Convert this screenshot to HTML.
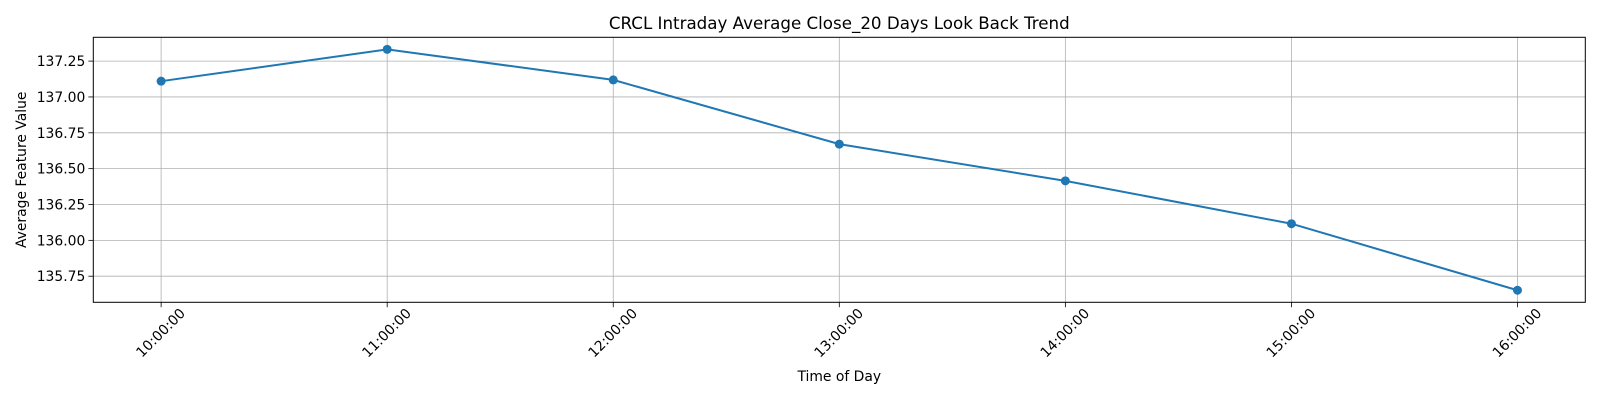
<!DOCTYPE html>
<html><head><meta charset="utf-8"><style>
html,body{margin:0;padding:0;background:#fff;}
svg{display:block;font-family:"DejaVu Sans","Liberation Sans",sans-serif;}
</style></head><body>
<svg id="chart" width="1600" height="400"></svg>
<script>
const categories = ["10:00:00","11:00:00","12:00:00","13:00:00","14:00:00","15:00:00","16:00:00"];
const values = [137.110, 137.332, 137.119, 136.671, 136.415, 136.116, 135.652];
const yTicks = [135.75, 136.00, 136.25, 136.50, 136.75, 137.00, 137.25];
const yTickLabels = ["135.75","136.00","136.25","136.50","136.75","137.00","137.25"];

const NS = "http://www.w3.org/2000/svg";
const svg = document.getElementById("chart");
const L = 93.3, R = 1585.3, T = 37.3, B = 302.3;
const n = categories.length;
const xPad = (n - 1) * 0.05;
const x = i => L + (i + xPad) / ((n - 1) + 2 * xPad) * (R - L);
const vmin = Math.min(...values), vmax = Math.max(...values);
const vPad = (vmax - vmin) * 0.05;
const y = v => B - (v - (vmin - vPad)) / ((vmax + vPad) - (vmin - vPad)) * (B - T);

function mk(tag, attrs, text) {
  const e = document.createElementNS(NS, tag);
  for (const k in attrs) e.setAttribute(k, attrs[k]);
  if (text !== undefined) e.textContent = text;
  svg.appendChild(e);
  return e;
}

// grid + ticks
categories.forEach((c, i) => {
  const g = mk("line", {x1: x(i), x2: x(i), y1: T, y2: B, stroke: "#b0b0b0", "stroke-width": 0.8});
  
  
  const t = mk("line", {x1: x(i), x2: x(i), y1: B, y2: B + 4.9, stroke: "#000", "stroke-width": 0.8});
  
  
  const lx = x(i), ly = B + 31;
  const lb = mk("text", {x: lx, y: ly, "font-size": 13.9, "text-anchor": "middle", "dominant-baseline": "central", transform: `rotate(-45 ${lx} ${ly})`, fill: "#000"}, c);
  
  
});
yTicks.forEach((v, i) => {
  const g = mk("line", {x1: L, x2: R, y1: y(v), y2: y(v), stroke: "#b0b0b0", "stroke-width": 0.8});
  
  
  const t = mk("line", {x1: L - 4.9, x2: L, y1: y(v), y2: y(v), stroke: "#000", "stroke-width": 0.8});
  
  
  const lb = mk("text", {x: L - 8, y: y(v) + 5, "font-size": 13.9, "text-anchor": "end", fill: "#000"}, yTickLabels[i]);
  
  
});

// series
const pts = values.map((v, i) => `${x(i)},${y(v)}`).join(" ");
const line = mk("polyline", {points: pts, fill: "none", stroke: "#1f77b4", "stroke-width": 2});


values.forEach((v, i) => {
  const p = mk("circle", {cx: x(i), cy: y(v), r: 4.5, fill: "#1f77b4"});
  
  
});

// frame
const fr = mk("rect", {x: L, y: T, width: R - L, height: B - T, fill: "none", stroke: "#000", "stroke-width": 1});



// titles
const ti = mk("text", {x: (L + R) / 2, y: 29, "font-size": 16.7, "text-anchor": "middle", fill: "#000"}, "CRCL Intraday Average Close_20 Days Look Back Trend");


const xt = mk("text", {x: (L + R) / 2, y: 381, "font-size": 13.9, "text-anchor": "middle", fill: "#000"}, "Time of Day");


const yt = mk("text", {x: 26, y: (T + B) / 2, "font-size": 13.9, "text-anchor": "middle", transform: `rotate(-90 26 ${(T + B) / 2})`, fill: "#000"}, "Average Feature Value");


</script>
</body></html>
